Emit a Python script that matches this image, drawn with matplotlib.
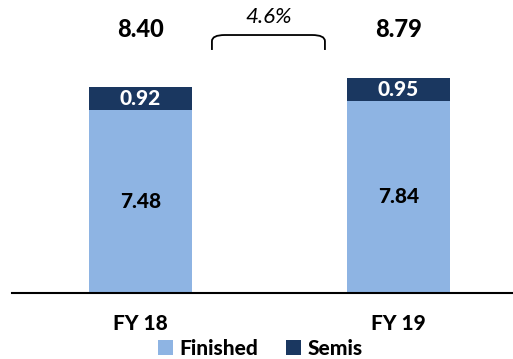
import matplotlib
matplotlib.use("Agg")
import matplotlib.pyplot as plt
from matplotlib.path import Path
from matplotlib.patches import PathPatch

plt.rcParams['font.family'] = ['Lato', 'DejaVu Sans']

categories = ["FY 18", "FY 19"]
finished = [7.48, 7.84]
semis = [0.92, 0.95]
totals = [8.40, 8.79]
growth_label = "4.6%"

c_fin = "#8EB4E3"
c_semi = "#1A3760"
BOLD = 900

fig = plt.figure(figsize=(5.13, 3.59), dpi=100)
ax = fig.add_axes([12 / 513, 66 / 359, 501 / 513, 293 / 359])

x = list(range(len(categories)))
w = 0.4
b1 = ax.bar(x, finished, width=w, color=c_fin, label="Finished")
b2 = ax.bar(x, semis, width=w, bottom=finished, color=c_semi, label="Semis")

for i in x:
    ax.text(i, finished[i] / 2, f"{finished[i]:.2f}", ha="center", va="center",
            fontsize=15, fontweight=BOLD, color="black")
    ax.text(i, finished[i] + semis[i] / 2, f"{semis[i]:.2f}", ha="center", va="center",
            fontsize=15, fontweight=BOLD, color="white")
    ax.text(i, 10.75, f"{totals[i]:.2f}", ha="center", va="center",
            fontsize=17, fontweight=BOLD, color="black")

# growth bracket between the two bars
xl, xr, yt, yb = 0.277, 0.715, 10.53, 9.92
r = 0.05
verts = [(xl, yb), (xl, yt - 0.25), (xl, yt), (xl + r, yt),
         (xr - r, yt), (xr, yt), (xr, yt - 0.25), (xr, yb)]
codes = [Path.MOVETO, Path.LINETO, Path.CURVE3, Path.CURVE3,
         Path.LINETO, Path.CURVE3, Path.CURVE3, Path.LINETO]
ax.add_patch(PathPatch(Path(verts, codes), fill=False, lw=1.3, color="black"))
ax.text(0.496, 11.25, growth_label, ha="center", va="center",
        fontsize=16, style="italic", color="black")

ax.set_xlim(-0.498, 1.444)
ax.set_ylim(0, 293 / 24.5)
ax.set_xticks(x)
ax.set_xticklabels(categories, fontsize=15, fontweight=BOLD)
ax.tick_params(axis="x", length=0, pad=15)
ax.set_yticks([])
for s in ["top", "right", "left"]:
    ax.spines[s].set_visible(False)
ax.spines["bottom"].set_linewidth(1.5)

fig.legend(handles=[b1, b2], loc="center", bbox_to_anchor=(0.507, 0.03),
           ncol=2, frameon=False, handlelength=0.75, handleheight=0.75,
           handletextpad=0.3, columnspacing=1.3, borderpad=0,
           prop={"size": 15, "weight": BOLD})

fig.savefig("out.png", dpi=100)
